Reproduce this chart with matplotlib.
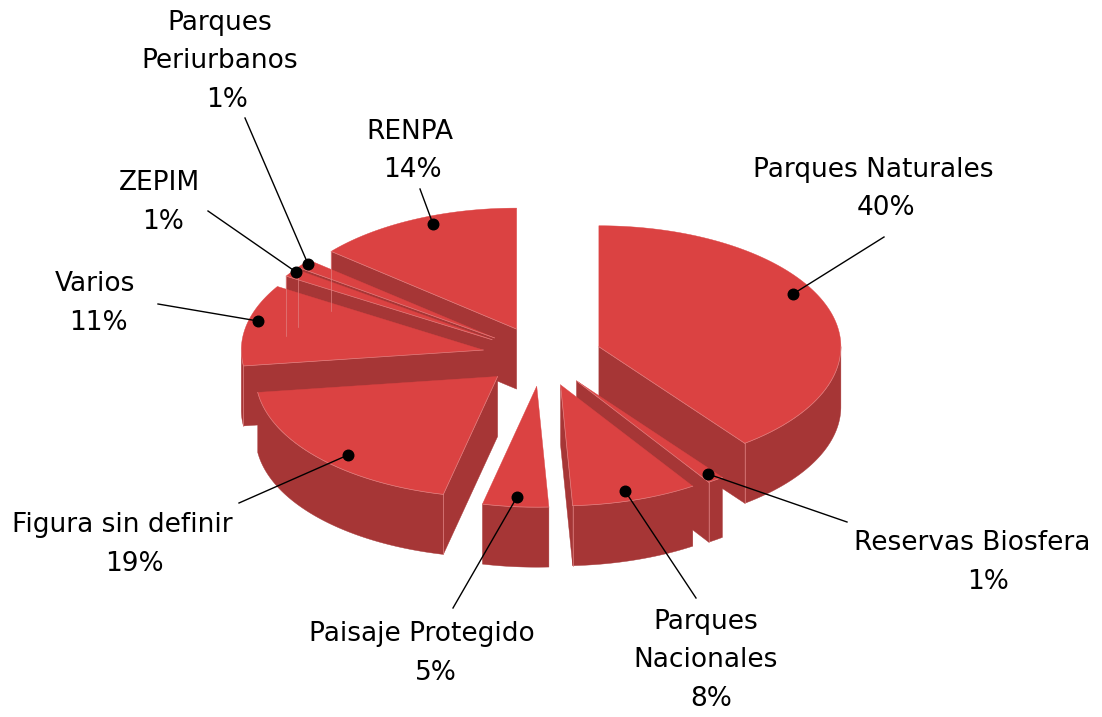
import numpy as np
import matplotlib
matplotlib.use("Agg")
import matplotlib.pyplot as plt
from matplotlib.patches import Polygon

# clockwise from 12 o'clock
names = ['Parques Naturales', 'Reservas Biosfera', 'Parques\nNacionales', 'Paisaje Protegido',
         'Figura sin definir', 'Varios', 'ZEPIM', 'Parques\nPeriurbanos', 'RENPA']
percent_labels = ['40%', '1%', '8%', '5%', '19%', '11%', '1%', '1%', '14%']
values = [39.7, 1.1, 8.4, 4.4, 19.3, 10.9, 1.1, 1.2, 13.9]

# back to front, index into the lists above
draw_order = [8, 7, 6, 5, 4, 0, 1, 2, 3]

# layout in pixels
CX, CY = 542, 356.3
RX, RY = 242, 121
DEPTH = 60
EXPLODE = 60
TOP = '#DB4242'
SIDE = '#A63636'
EDGE = '#E08080'

name_xy = [(873, 170), (972, 543), (706, 641), (422, 634), (122, 525),
           (95, 284), (160, 183), (220, 42), (410, 132)]
pct_xy = [(886, 208), (988, 582), (711, 699), (436, 673), (134, 564),
          (98, 323), (163, 222), (227, 100), (412, 170)]
line_start = [(884, 237), (847, 522), (696, 598), (453, 608), (239, 503),
              (158, 304), (208, 211), (245, 118), (420, 189)]
dot_xy = [(793, 294), (708, 474), (625, 491), (517, 497), (348, 455),
          (258, 321), (296, 272), (308, 264), (433, 224)]


def ring(ang, apex):
    ang = np.radians(ang)
    return np.column_stack([apex[0] + RX * np.sin(ang), apex[1] - RY * np.cos(ang)])


def wall(pts):
    return np.vstack([pts, (pts + [0, DEPTH])[::-1]])


fig = plt.figure(figsize=(11.02, 7.17), dpi=100)
ax = fig.add_axes([0, 0, 1, 1])
ax.set_xlim(0, 1102)
ax.set_ylim(717, 0)
ax.axis('off')

edges = np.concatenate([[0], np.cumsum(values)]) / np.sum(values) * 360

for i in draw_order:
    a0, a1 = edges[i], edges[i + 1]
    mid = np.radians((a0 + a1) / 2)
    apex = (CX + EXPLODE * np.sin(mid), CY - EXPLODE / 2 * np.cos(mid))
    arc = ring(np.linspace(a0, a1, 200), apex)
    apex_pt = np.array([apex])
    rim_lines = []

    # radial faces
    if np.sin(np.radians(a0)) < -1e-6:
        seg = np.vstack([apex_pt, arc[:1]])
        ax.add_patch(Polygon(wall(seg), fc=SIDE, ec=SIDE, lw=0.3))
        rim_lines.append(seg)
        rim_lines.append(wall(arc[:1]))
    if np.sin(np.radians(a1)) > 1e-6:
        seg = np.vstack([apex_pt, arc[-1:]])
        ax.add_patch(Polygon(wall(seg), fc=SIDE, ec=SIDE, lw=0.3))
        rim_lines.append(seg)
        rim_lines.append(wall(arc[-1:]))

    # outer wall, only the front half of the rim shows
    lo, hi = max(a0, 90), min(a1, 270)
    if hi > lo:
        rim = ring(np.linspace(lo, hi, 200), apex)
        ax.add_patch(Polygon(wall(rim), fc=SIDE, ec=SIDE, lw=0.3))
        rim_lines.append(rim)

    ax.add_patch(Polygon(np.vstack([apex_pt, arc]), fc=TOP, ec=TOP, lw=0.3))
    for seg in rim_lines:
        ax.plot(*seg.T, color=EDGE, lw=0.5)

for i, name in enumerate(names):
    ax.plot([line_start[i][0], dot_xy[i][0]], [line_start[i][1], dot_xy[i][1]], color='black', lw=1.0, zorder=5)
    ax.plot(*dot_xy[i], 'o', color='black', ms=7.6, zorder=6)
    # name and percent are not centred on each other in the original
    ax.text(*name_xy[i], name, ha='center', va='center', fontsize=19, color='black',
            linespacing=1.56, family='DejaVu Sans', zorder=7)
    ax.text(*pct_xy[i], percent_labels[i], ha='center', va='center', fontsize=19, color='black',
            family='DejaVu Sans', zorder=7)

plt.savefig('out.png', dpi=100)
